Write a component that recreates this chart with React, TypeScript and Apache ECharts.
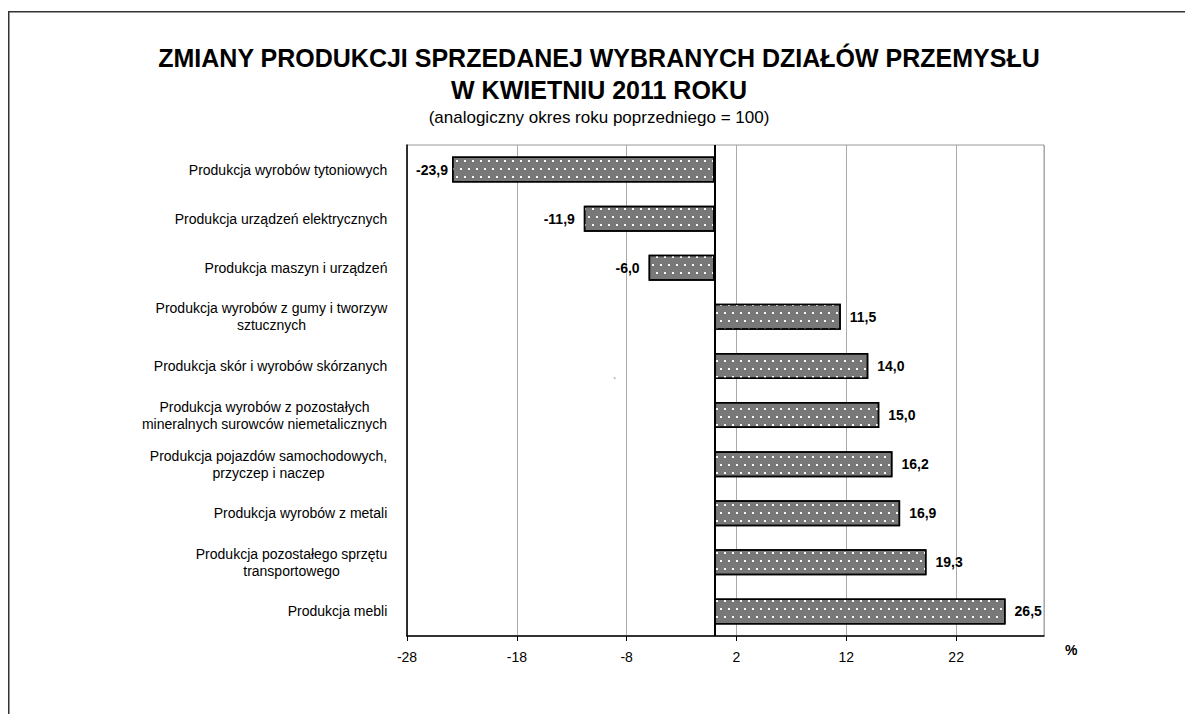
import React, { useEffect, useRef } from "react";
import * as echarts from "echarts";

const categories = [
  "Produkcja wyrobów tytoniowych",
  "Produkcja urządzeń elektrycznych",
  "Produkcja maszyn i urządzeń",
  "Produkcja wyrobów z gumy i tworzyw\nsztucznych",
  "Produkcja skór i wyrobów skórzanych",
  "Produkcja wyrobów z pozostałych\nmineralnych surowców niemetalicznych",
  "Produkcja pojazdów samochodowych,\nprzyczep i naczep",
  "Produkcja wyrobów z metali",
  "Produkcja pozostałego sprzętu\ntransportowego",
  "Produkcja mebli",
];
const values = [-23.9, -11.9, -6.0, 11.5, 14.0, 15.0, 16.2, 16.9, 19.3, 26.5];
const titleLines = [
  "ZMIANY PRODUKCJI SPRZEDANEJ WYBRANYCH DZIAŁÓW PRZEMYSŁU",
  "W KWIETNIU 2011 ROKU",
];
const subtitle = "(analogiczny okres roku poprzedniego = 100)";
const axisMin = -28;
const axisMax = 30;
const axisStep = 10;
const unitLabel = "%";

const FONT = '"Liberation Sans", Arial, Helvetica, sans-serif';

export default function App() {
  const ref = useRef<HTMLDivElement>(null);
  useEffect(() => {
    if (!ref.current) return;
    const chart = echarts.init(ref.current, null, { renderer: "svg" });

    const canvas = document.createElement("canvas");
    const ctx = canvas.getContext("2d")!;
    ctx.font = `14px ${FONT}`;
    const rich: Record<string, any> = {};
    categories.forEach((c, i) => {
      const w = Math.max(...c.split("\n").map((l) => ctx.measureText(l).width));
      rich["l" + i] = {
        width: Math.ceil(w) + 1,
        align: "center",
        fontSize: 14,
        fontFamily: FONT,
        color: "#000",
        lineHeight: 17,
      };
    });

    const fmt = (v: number) => v.toFixed(1).replace(".", ",");

    const data = values.map((v, i) => ({
      value: v,
      label: {
        show: true,
        position: v < 0 ? "left" : "right",
        distance: i === 0 ? 4 : 9,
        formatter: fmt(v),
        fontSize: 14,
        fontWeight: "bold",
        fontFamily: FONT,
        color: "#000",
      },
    }));

    chart.setOption({
      animation: false,
      backgroundColor: "#fff",
      textStyle: { fontFamily: FONT },
      graphic: [
        {
          type: "rect",
          shape: { x: 0.75, y: 3.75, width: 1400, height: 900 },
          style: { fill: "none", stroke: "#333", lineWidth: 1.5 },
          silent: true,
          z: 0,
        },
        {
          type: "text",
          x: 591,
          y: 50,
          style: {
            text: titleLines[0],
            font: `bold 25px ${FONT}`,
            fill: "#000",
            align: "center",
            verticalAlign: "middle",
          },
        },
        {
          type: "text",
          x: 591,
          y: 82,
          style: {
            text: titleLines[1],
            font: `bold 25px ${FONT}`,
            fill: "#000",
            align: "center",
            verticalAlign: "middle",
          },
        },
        {
          type: "text",
          x: 591,
          y: 109,
          style: {
            text: subtitle,
            font: `17px ${FONT}`,
            fill: "#000",
            align: "center",
            verticalAlign: "middle",
          },
        },
        {
          type: "text",
          x: 605,
          y: 369,
          style: { text: "`", font: `10px ${FONT}`, fill: "#555" },
          silent: true,
        },
      ],
      grid: {
        left: 399,
        right: 141,
        top: 137,
        bottom: 78,
        show: true,
        borderColor: "#999",
        borderWidth: 1,
        backgroundColor: "transparent",
      },
      xAxis: {
        type: "value",
        min: axisMin,
        max: axisMax,
        interval: axisStep,
        name: unitLabel,
        nameLocation: "end",
        nameGap: 21,
        nameTextStyle: {
          fontSize: 14,
          fontWeight: "bold",
          color: "#000",
          fontFamily: FONT,
          verticalAlign: "top",
          lineHeight: 28,
        },
        axisLine: { show: true, onZero: false, lineStyle: { color: "#000", width: 1.5 } },
        axisTick: { show: true, length: 5, lineStyle: { color: "#000", width: 1 } },
        axisLabel: {
          fontSize: 14,
          color: "#000",
          fontFamily: FONT,
          margin: 14,
          showMaxLabel: false,
        },
        splitLine: { show: true, lineStyle: { color: "#aaa", width: 1 } },
      },
      yAxis: {
        type: "category",
        data: categories,
        inverse: true,
        axisLine: { show: true, onZero: false, lineStyle: { color: "#000", width: 1.5 } },
        axisTick: { show: false },
        splitLine: { show: false },
        axisLabel: {
          margin: 19,
          fontSize: 14,
          color: "#000",
          fontFamily: FONT,
          lineHeight: 17,
          formatter: (val: string, idx: number) =>
            val
              .split("\n")
              .map((l) => `{l${idx}|${l}}`)
              .join("\n"),
          rich,
        },
      },
      series: [
        {
          type: "bar",
          data,
          barWidth: 26,
          itemStyle: {
            color: "#787878",
            borderColor: "#000",
            borderWidth: 1.5,
            decal: {
              symbol: "rect",
              symbolSize: 1,
              color: "rgba(255,255,255,0.95)",
              dashArrayX: [
                [2, 6],
                [0, 4, 2, 2],
              ],
              dashArrayY: [2, 6],
              rotation: 0,
            },
          },
          markLine: {
            silent: true,
            symbol: ["none", "none"],
            label: { show: false },
            lineStyle: { color: "#000", width: 2, type: "solid" },
            data: [{ xAxis: 0 }],
          },
        },
      ],
    });
    return () => chart.dispose();
  }, []);
  return <div ref={ref} style={{ width: 1177, height: 706 }} />;
}
